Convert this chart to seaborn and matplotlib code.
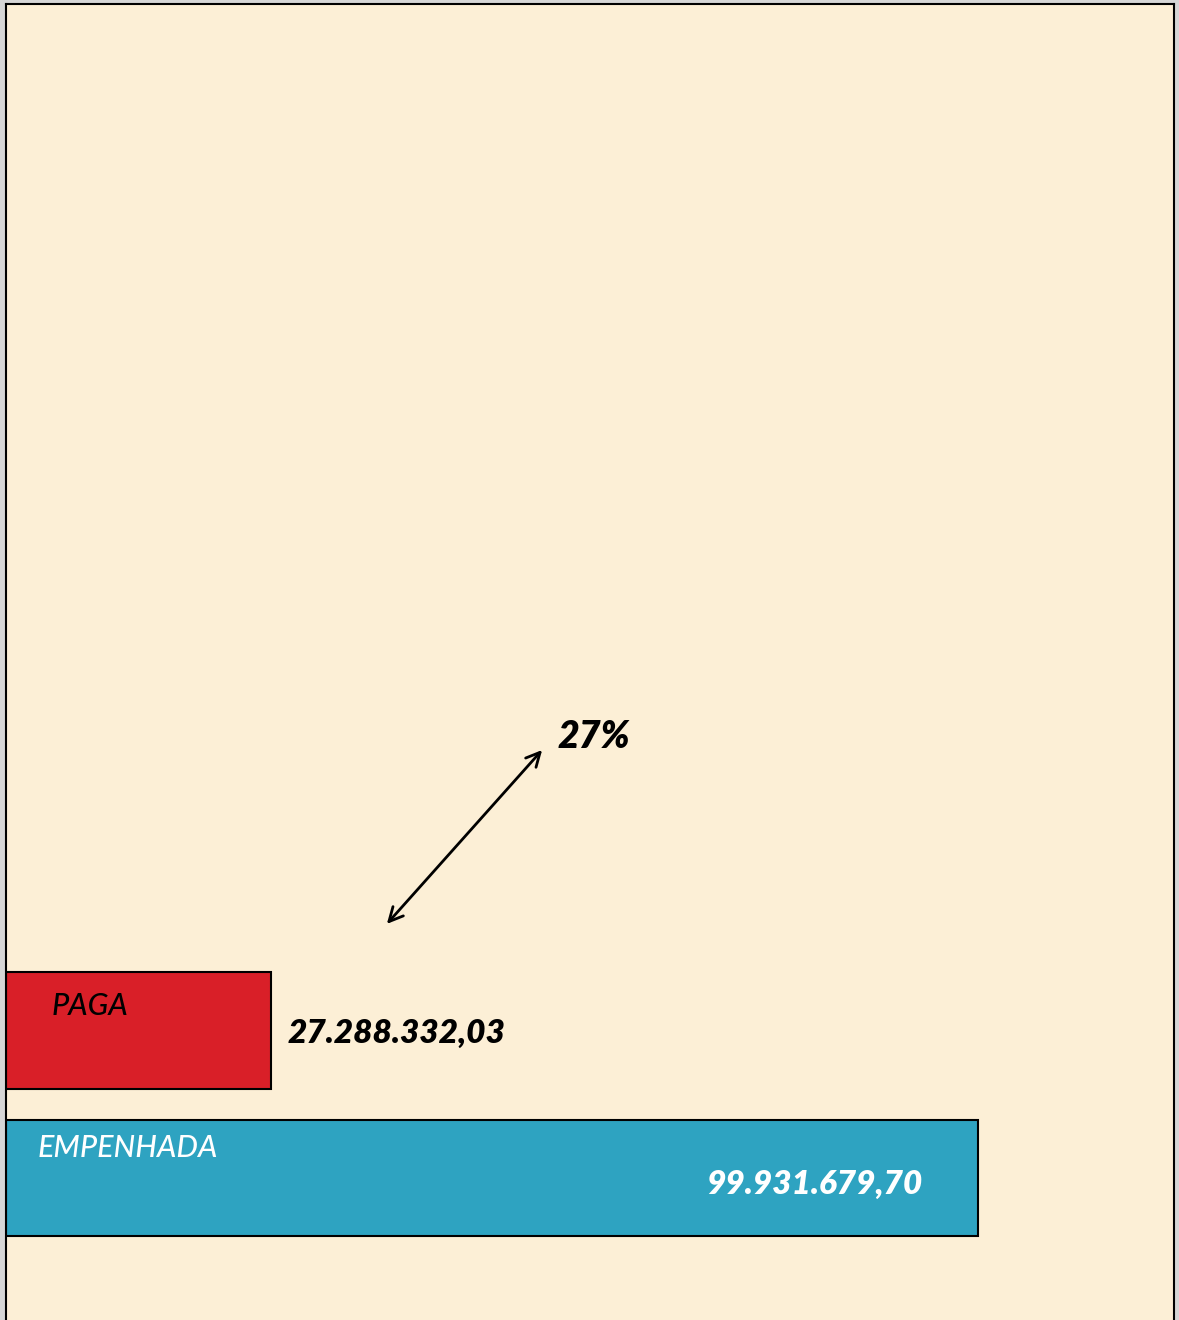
import matplotlib
matplotlib.use('Agg')
import matplotlib.pyplot as plt
import seaborn as sns
import pandas as pd

# dados
categorias = ['PAGA', 'EMPENHADA']
valores = [27288332.03, 99931679.70]
rotulos = ['27.288.332,03', '99.931.679,70']
cores = ['#d91f28', '#2ea3c1']

df = pd.DataFrame({'categoria': categorias, 'valor': valores})

sns.set_style('white')
plt.rcParams['font.family'] = ['Lato', 'DejaVu Sans']
plt.rcParams['text.color'] = 'black'

fig = plt.figure(figsize=(11.79, 13.2), dpi=100, facecolor='#d6d6d6')
ax = fig.add_axes([6/1179, 0, 1168/1179, 1316/1320])
ax.set_facecolor('#fcefd6')

sns.barplot(data=df, x='valor', y='categoria', hue='categoria', palette=cores,
            orient='h', width=0.79, edgecolor='black', linewidth=1.5,
            saturation=1, legend=False, ax=ax)

ax.set_xlim(0, 120.08e6)
ax.set_ylim(1.963, -6.96)
ax.set_xticks([])
ax.set_yticks([])
ax.set_xlabel('')
ax.set_ylabel('')
for s in ['top', 'left', 'right']:
    ax.spines[s].set_color('black')
    ax.spines[s].set_linewidth(1.5)
ax.spines['bottom'].set_visible(False)

# nomes das barras
ax.annotate('PAGA', xy=(0, 0), xytext=(33, 17.6), textcoords='offset points',
            fontsize=22, style='italic', fontweight='medium', color='black',
            ha='left', va='center')
ax.annotate('EMPENHADA', xy=(0, 1), xytext=(23, 21.6), textcoords='offset points',
            fontsize=22, style='italic', fontweight='medium', color='white',
            ha='left', va='center')

# valores
ax.annotate(rotulos[0], xy=(valores[0], 0), xytext=(12, -2), textcoords='offset points',
            fontsize=24, style='italic', fontweight='heavy', color='black',
            ha='left', va='center')
ax.annotate(rotulos[1], xy=(valores[1], 1), xytext=(-40, -5), textcoords='offset points',
            fontsize=24, style='italic', fontweight='heavy', color='white',
            ha='right', va='center')

# seta e percentual
pct = round(valores[0] / valores[1] * 100)
ax.annotate('', xy=(0.4606, 0.4347), xytext=(0.3245, 0.2994), xycoords='axes fraction',
            arrowprops=dict(arrowstyle='<->', color='black', lw=2, mutation_scale=25))
ax.text(0.4726, 0.443, f'{pct}%', transform=ax.transAxes, fontsize=27,
        style='italic', fontweight='heavy', color='black', ha='left', va='center')

fig.savefig('out.png', dpi=100, facecolor=fig.get_facecolor())
